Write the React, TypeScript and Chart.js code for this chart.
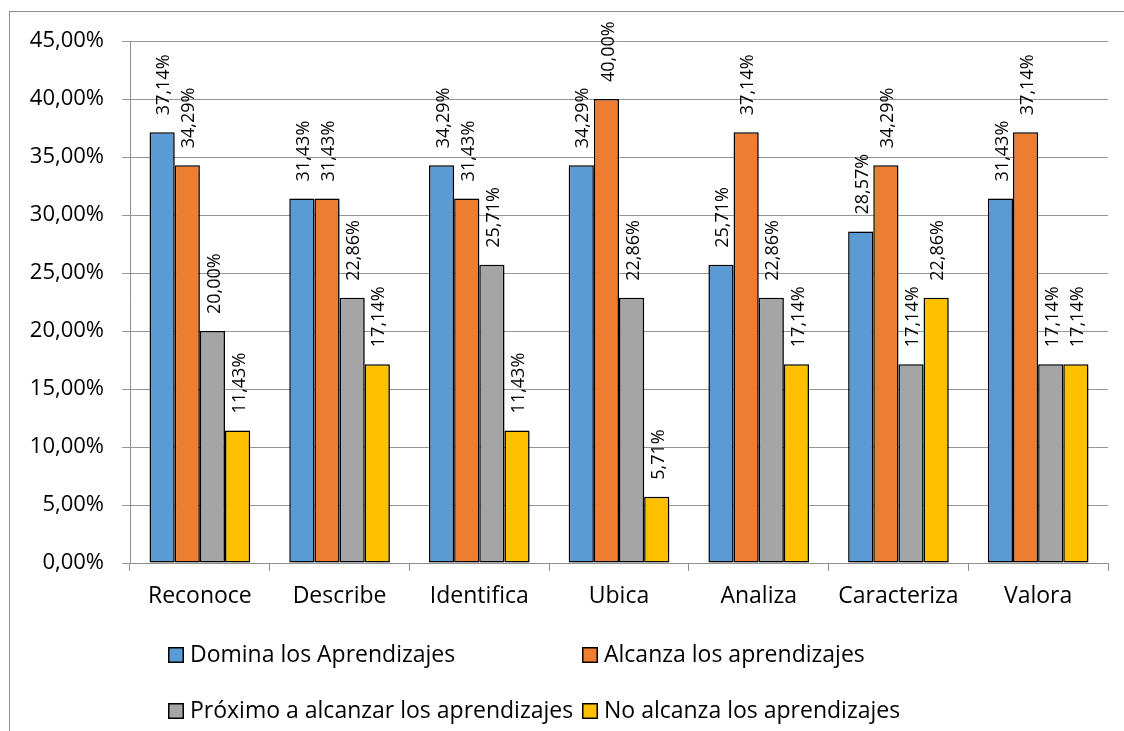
import React, { useEffect, useRef } from "react";
import { Chart, registerables } from "chart.js";

Chart.register(...registerables);

const categories = ["Reconoce", "Describe", "Identifica", "Ubica", "Analiza", "Caracteriza", "Valora"];
const seriesNames = [
  "Domina los Aprendizajes",
  "Alcanza los aprendizajes",
  "Próximo a alcanzar los aprendizajes",
  "No alcanza los aprendizajes",
];
const domina = [37.14, 31.43, 34.29, 34.29, 25.71, 28.57, 31.43];
const alcanza = [34.29, 31.43, 31.43, 40.0, 37.14, 34.29, 37.14];
const proximo = [20.0, 22.86, 25.71, 22.86, 22.86, 17.14, 17.14];
const noAlcanza = [11.43, 17.14, 11.43, 5.71, 17.14, 22.86, 17.14];
const colors = ["#5B9BD5", "#ED7D31", "#A5A5A5", "#FFC000"];
const yMax = 45;
const yStep = 5;

const FONT = "'Open Sans', 'Noto Sans', sans-serif";
const fmt = (v: number) => v.toFixed(2).replace(".", ",") + "%";

const framePlugin = {
  id: "frame",
  beforeDraw(chart: any) {
    const ctx = chart.ctx;
    ctx.save();
    ctx.fillStyle = "#ffffff";
    ctx.fillRect(0, 0, chart.width, chart.height);
    ctx.strokeStyle = "#8e8e8e";
    ctx.lineWidth = 1;
    ctx.strokeRect(9.5, 11.5, chart.width + 10, chart.height + 10);
    ctx.restore();
  },
};

const shadowPlugin = {
  id: "barShadow",
  beforeDatasetsDraw(chart: any) {
    const ctx = chart.ctx;
    ctx.save();
    ctx.shadowColor = "rgba(0,0,0,0.35)";
    ctx.shadowBlur = 7;
    ctx.shadowOffsetX = 3;
    ctx.shadowOffsetY = 2;
  },
  afterDatasetsDraw(chart: any) {
    const ctx = chart.ctx;
    ctx.restore();
    ctx.save();
    ctx.font = `18px ${FONT}`;
    ctx.fillStyle = "#000";
    ctx.textAlign = "left";
    ctx.textBaseline = "middle";
    chart.data.datasets.forEach((ds: any, di: number) => {
      const meta = chart.getDatasetMeta(di);
      meta.data.forEach((bar: any, i: number) => {
        const v = ds.data[i];
        ctx.save();
        ctx.translate(bar.x + 2, bar.y - 17);
        ctx.rotate(-Math.PI / 2);
        ctx.fillText(fmt(v), 0, 0);
        ctx.restore();
      });
    });
    ctx.restore();
  },
};

const legendPlugin = {
  id: "customLegend",
  afterDraw(chart: any) {
    const ctx = chart.ctx;
    const pos = [
      { x: 168, y: 647 },
      { x: 582, y: 647 },
      { x: 168, y: 703 },
      { x: 582, y: 703 },
    ];
    ctx.save();
    ctx.font = `23px ${FONT}`;
    ctx.textBaseline = "alphabetic";
    ctx.textAlign = "left";
    seriesNames.forEach((name, i) => {
      const p = pos[i];
      ctx.fillStyle = colors[i];
      ctx.fillRect(p.x, p.y, 16, 16);
      ctx.strokeStyle = "#000";
      ctx.lineWidth = 1.5;
      ctx.strokeRect(p.x + 0.75, p.y + 0.75, 14.5, 14.5);
      ctx.fillStyle = "#000";
      ctx.fillText(name, p.x + 22, p.y + 15);
    });
    ctx.restore();
  },
};

export default function App() {
  const ref = useRef<HTMLCanvasElement | null>(null);
  useEffect(() => {
    if (!ref.current) return;
    const series = [domina, alcanza, proximo, noAlcanza];
    const chart = new Chart(ref.current, {
      type: "bar",
      data: {
        labels: categories,
        datasets: series.map((d, i) => ({
          label: seriesNames[i],
          data: d,
          backgroundColor: colors[i],
          borderColor: "#000",
          borderWidth: 1.5,
          borderSkipped: false,
          categoryPercentage: 0.72,
          barPercentage: 1,
        })),
      },
      options: {
        responsive: false,
        animation: false,
        devicePixelRatio: 1,
        layout: { padding: { top: 41, right: 16, left: 0, bottom: 0 } },
        plugins: {
          legend: { display: false },
          tooltip: { enabled: false },
        },
        scales: {
          x: {
            grid: {
              drawOnChartArea: false,
              drawTicks: true,
              tickLength: 8,
              color: "#8e8e8e",
              offset: true,
            },
            border: { color: "#8e8e8e" },
            ticks: { font: { family: FONT, size: 23 }, color: "#000", padding: 12, maxRotation: 0 },
            afterFit: (s: any) => {
              s.height = 168;
            },
          },
          y: {
            min: 0,
            max: yMax,
            grid: { color: "#969696", tickLength: 8 },
            border: { color: "#8e8e8e" },
            ticks: {
              stepSize: yStep,
              font: { family: FONT, size: 22 },
              color: "#000",
              padding: 18,
              callback: (v: any) => fmt(Number(v)),
            },
            afterFit: (s: any) => {
              s.width = 130;
            },
          },
        },
      },
      plugins: [framePlugin, shadowPlugin, legendPlugin],
    });
    return () => chart.destroy();
  }, []);
  return (
    <div style={{ position: "absolute", left: 0, top: 0, width: 1124, height: 731 }}>
      <canvas ref={ref} width={1124} height={731} style={{ width: 1124, height: 731, display: "block" }} />
    </div>
  );
}
